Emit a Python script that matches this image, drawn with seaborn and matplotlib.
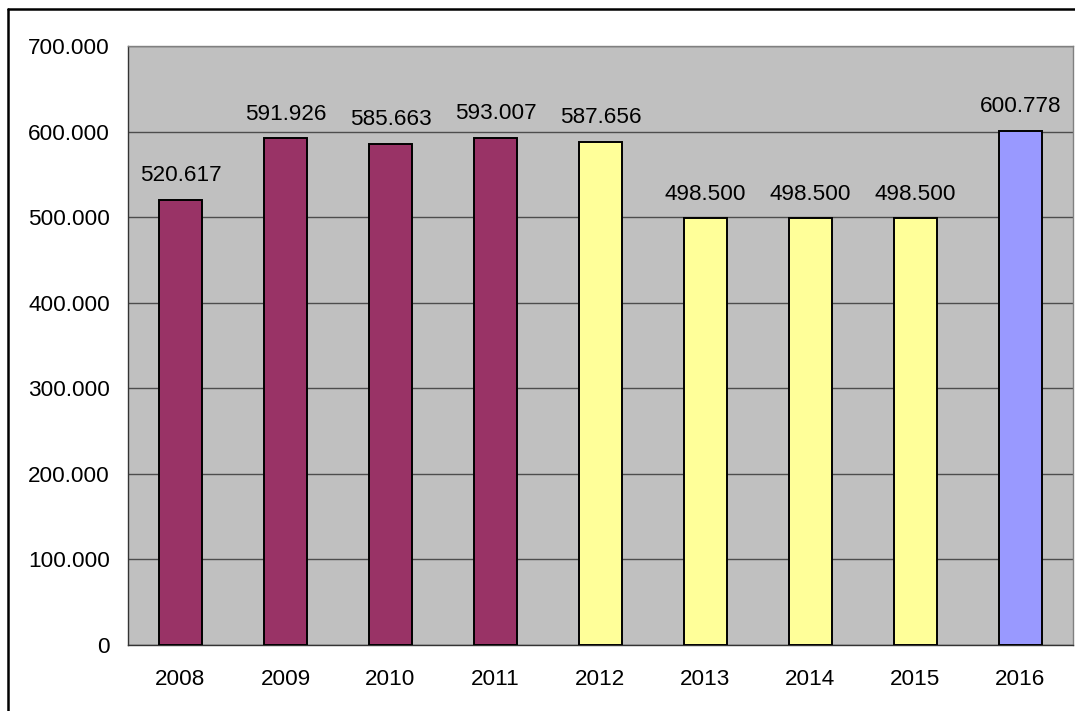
import matplotlib
matplotlib.use("Agg")
import matplotlib.pyplot as plt
import matplotlib.ticker as mticker
from matplotlib.lines import Line2D
import seaborn as sns
import pandas as pd

years = ["2008", "2009", "2010", "2011", "2012", "2013", "2014", "2015", "2016"]
values = [520617, 591926, 585663, 593007, 587656, 498500, 498500, 498500, 600778]
bar_colors = ["#993366", "#993366", "#993366", "#993366",
              "#FFFF99", "#FFFF99", "#FFFF99", "#FFFF99", "#9999FF"]

df = pd.DataFrame({"year": years, "value": values})

sns.set_style("white")
plt.rcParams['font.family'] = ['Liberation Sans', 'DejaVu Sans']
plt.rcParams['text.color'] = 'black'
plt.rcParams['xtick.labelcolor'] = 'black'
plt.rcParams['ytick.labelcolor'] = 'black'

def dotfmt(v, pos=None):
    return "{:,.0f}".format(v).replace(",", ".")

fs = 16.2

fig = plt.figure(figsize=(10.75, 7.11), dpi=100)
ax = fig.add_axes([128/1075, 1 - 645/711, (1073 - 128)/1075, (645 - 46)/711])
ax.set_facecolor("#C0C0C0")

sns.barplot(data=df, x="year", y="value", hue="year", palette=bar_colors,
            legend=False, width=0.41, edgecolor="black", linewidth=1.4,
            saturation=1, ax=ax, zorder=3)

ax.set_ylim(0, 700000)
ax.set_xlim(-0.5, len(years) - 0.5)
ax.yaxis.set_major_locator(mticker.MultipleLocator(100000))
ax.yaxis.set_major_formatter(mticker.FuncFormatter(dotfmt))
ax.grid(axis="y", color="#4d4d4d", linewidth=1, zorder=1)
ax.set_axisbelow(True)
ax.set_xlabel("")
ax.set_ylabel("")

for i, v in enumerate(values):
    ax.annotate(dotfmt(v), (i, v), xytext=(0, 10), textcoords="offset points",
                ha="center", va="bottom", fontsize=fs, color="black", zorder=5)

# category boundary ticks on x axis
ax.set_xticks(range(len(years)))
ax.set_xticklabels(years)
ax.tick_params(axis="x", length=0, labelsize=fs, pad=17)
ax.set_xticks([i - 0.5 for i in range(len(years) + 1)], minor=True)
ax.tick_params(axis="x", which="minor", length=4.5, width=1, color="#4d4d4d", direction="out")
ax.tick_params(axis="y", length=4.5, width=1, color="#4d4d4d", direction="out", labelsize=fs, pad=8.5)

for side in ["top", "right"]:
    ax.spines[side].set_color("#808080")
    ax.spines[side].set_linewidth(1)
for side in ["left", "bottom"]:
    ax.spines[side].set_color("#333333")
    ax.spines[side].set_linewidth(1)

# outer chart border
bx = 8 / 1075
by = 1 - 9 / 711
fig.add_artist(Line2D([bx, bx], [0, by], transform=fig.transFigure, color="black", linewidth=1.8))
fig.add_artist(Line2D([bx, 1], [by, by], transform=fig.transFigure, color="black", linewidth=1.8))

fig.savefig("out.png", dpi=100, facecolor="white")
